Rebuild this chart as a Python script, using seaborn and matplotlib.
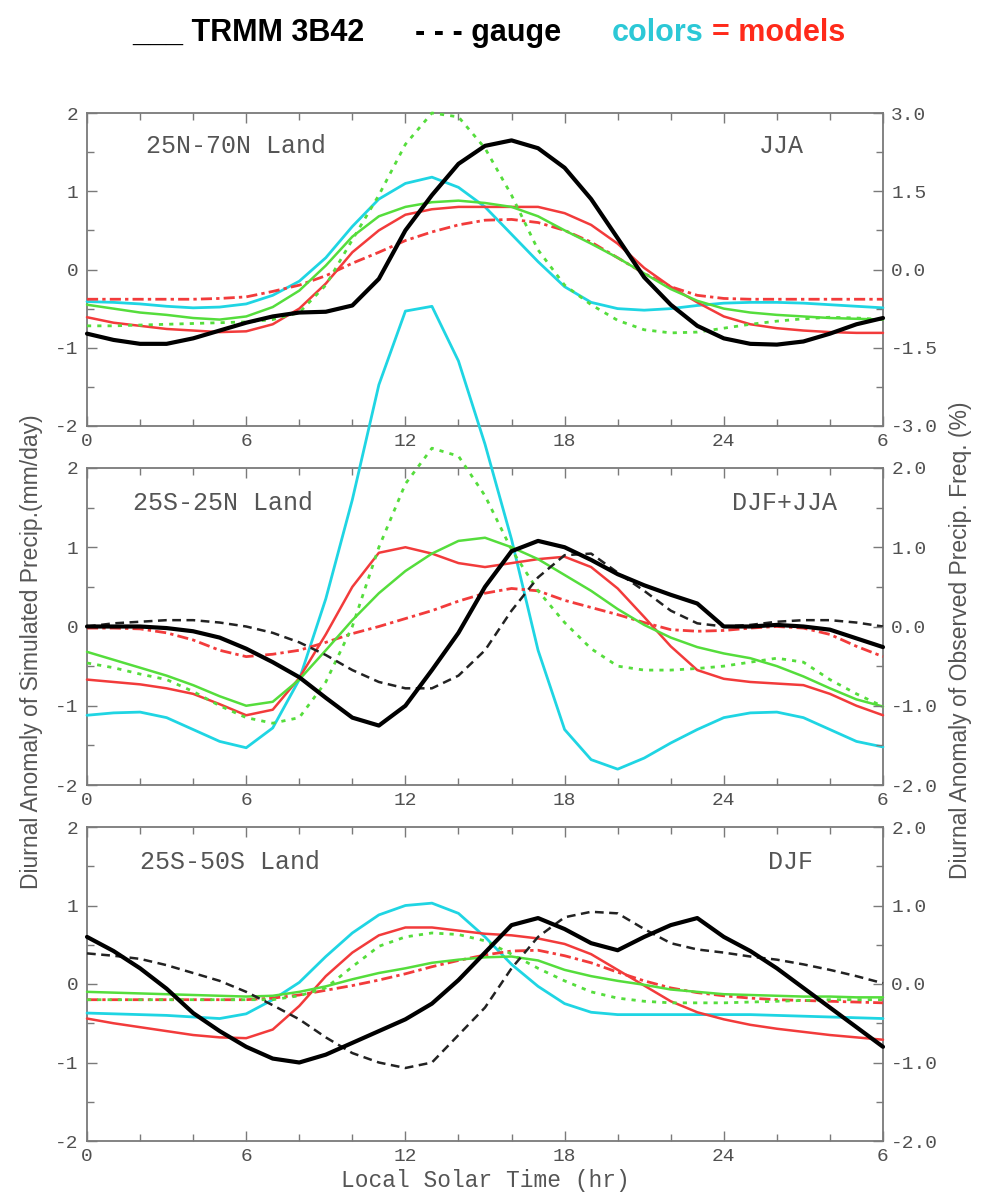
import matplotlib
matplotlib.use('Agg')
import matplotlib.pyplot as plt
import pandas as pd
import seaborn as sns

# local solar time, 0..24 then wrapping round to 6 again
hours = list(range(31))
xtick_pos = [0, 6, 12, 18, 24, 30]
xtick_labels = ['0', '6', '12', '18', '24', '6']

# 25N-70N Land, JJA
nh_trmm = [-0.82, -0.9, -0.95, -0.95, -0.88, -0.78, -0.68, -0.6, -0.55, -0.54, -0.46, -0.12, 0.5, 0.95, 1.35,
           1.58, 1.65, 1.55, 1.3, 0.9, 0.4, -0.1, -0.45, -0.72, -0.88, -0.95, -0.96, -0.92, -0.82, -0.7, -0.62]
nh_cyan = [-0.41, -0.42, -0.44, -0.47, -0.49, -0.48, -0.44, -0.33, -0.15, 0.15, 0.55, 0.9, 1.1, 1.18, 1.05,
           0.8, 0.45, 0.1, -0.22, -0.42, -0.5, -0.52, -0.5, -0.46, -0.43, -0.42, -0.42, -0.43, -0.45, -0.47, -0.49]
nh_red = [-0.61, -0.68, -0.72, -0.76, -0.78, -0.8, -0.79, -0.7, -0.5, -0.18, 0.22, 0.5, 0.7, 0.77, 0.8,
          0.8, 0.8, 0.8, 0.72, 0.57, 0.33, 0.02, -0.22, -0.42, -0.6, -0.7, -0.75, -0.78, -0.8, -0.81, -0.81]
nh_red_dash = [-0.38, -0.38, -0.38, -0.38, -0.38, -0.37, -0.35, -0.28, -0.2, -0.08, 0.08, 0.22, 0.37, 0.48, 0.57,
               0.63, 0.64, 0.6, 0.5, 0.35, 0.15, -0.05, -0.22, -0.33, -0.37, -0.38, -0.38, -0.38, -0.38, -0.38, -0.38]
nh_green = [-0.45, -0.5, -0.55, -0.58, -0.62, -0.64, -0.6, -0.48, -0.27, 0.05, 0.42, 0.68, 0.8, 0.86, 0.88,
            0.85, 0.8, 0.68, 0.5, 0.33, 0.15, -0.05, -0.25, -0.4, -0.5, -0.55, -0.58, -0.6, -0.62, -0.63, -0.64]
nh_green_dot = [-0.72, -0.72, -0.71, -0.7, -0.69, -0.68, -0.67, -0.64, -0.55, -0.2, 0.38, 0.95, 1.6, 2.0, 1.95,
                1.55, 0.95, 0.25, -0.2, -0.45, -0.65, -0.77, -0.81, -0.8, -0.75, -0.7, -0.66, -0.63, -0.61, -0.62, -0.64]

# 25S-25N Land, DJF+JJA
tr_trmm = [0.0, 0.0, 0.0, -0.02, -0.06, -0.14, -0.28, -0.45, -0.64, -0.9, -1.15, -1.25, -1.0, -0.55, -0.08,
           0.5, 0.95, 1.08, 1.0, 0.84, 0.66, 0.52, 0.4, 0.29, 0.0, 0.0, 0.02, 0.0, -0.04, -0.15, -0.26]
tr_gauge = [0.0, 0.04, 0.06, 0.08, 0.08, 0.05, 0.0, -0.08, -0.2, -0.36, -0.55, -0.7, -0.78, -0.78, -0.62,
            -0.3, 0.2, 0.62, 0.9, 0.92, 0.68, 0.45, 0.2, 0.04, 0.0, 0.02, 0.06, 0.08, 0.08, 0.05, 0.0]
tr_cyan = [-1.12, -1.09, -1.08, -1.15, -1.3, -1.45, -1.53, -1.28, -0.67, 0.35, 1.6, 3.05, 3.98, 4.04, 3.35,
           2.3, 1.1, -0.3, -1.3, -1.68, -1.8, -1.66, -1.47, -1.3, -1.15, -1.09, -1.08, -1.15, -1.3, -1.45, -1.52]
tr_red = [-0.67, -0.7, -0.73, -0.78, -0.85, -0.98, -1.12, -1.05, -0.65, -0.1, 0.5, 0.93, 1.0, 0.92, 0.8,
          0.75, 0.8, 0.85, 0.88, 0.75, 0.48, 0.12, -0.25, -0.55, -0.66, -0.7, -0.72, -0.74, -0.85, -1.0, -1.12]
tr_red_dash = [-0.02, -0.02, -0.03, -0.08, -0.17, -0.3, -0.38, -0.35, -0.3, -0.2, -0.09, 0.0, 0.1, 0.2, 0.32,
               0.42, 0.48, 0.45, 0.33, 0.24, 0.15, 0.05, -0.04, -0.06, -0.05, -0.02, 0.0, -0.02, -0.1, -0.25, -0.38]
tr_green = [-0.32, -0.42, -0.52, -0.62, -0.74, -0.88, -1.0, -0.95, -0.67, -0.3, 0.08, 0.42, 0.7, 0.92, 1.08,
            1.12, 1.0, 0.85, 0.65, 0.45, 0.22, 0.02, -0.14, -0.26, -0.34, -0.4, -0.5, -0.63, -0.78, -0.92, -1.01]
tr_green_dot = [-0.46, -0.52, -0.6, -0.67, -0.82, -1.0, -1.15, -1.22, -1.15, -0.7, 0.0, 1.0, 1.8, 2.25, 2.15,
                1.65, 0.97, 0.45, 0.05, -0.28, -0.5, -0.55, -0.55, -0.53, -0.5, -0.45, -0.4, -0.45, -0.67, -0.85, -1.01]

# 25S-50S Land, DJF
sh_trmm = [0.6, 0.42, 0.2, -0.06, -0.37, -0.6, -0.8, -0.95, -1.0, -0.9, -0.75, -0.6, -0.45, -0.25, 0.05,
           0.4, 0.75, 0.84, 0.7, 0.52, 0.43, 0.6, 0.75, 0.84, 0.6, 0.42, 0.2, -0.05, -0.3, -0.55, -0.8]
sh_gauge = [0.39, 0.36, 0.32, 0.24, 0.14, 0.04, -0.1, -0.27, -0.45, -0.68, -0.88, -1.0, -1.07, -1.0, -0.65,
            -0.3, 0.2, 0.6, 0.85, 0.92, 0.9, 0.7, 0.52, 0.44, 0.4, 0.35, 0.31, 0.25, 0.18, 0.1, 0.01]
sh_cyan = [-0.37, -0.38, -0.39, -0.4, -0.42, -0.44, -0.38, -0.2, 0.02, 0.35, 0.65, 0.88, 1.0, 1.03, 0.9,
           0.6, 0.25, -0.03, -0.25, -0.36, -0.39, -0.39, -0.39, -0.39, -0.39, -0.39, -0.4, -0.41, -0.42, -0.43, -0.44]
sh_red = [-0.44, -0.5, -0.55, -0.6, -0.65, -0.68, -0.69, -0.58, -0.28, 0.1, 0.4, 0.62, 0.72, 0.72, 0.68,
          0.64, 0.62, 0.58, 0.51, 0.38, 0.18, -0.02, -0.22, -0.36, -0.45, -0.52, -0.57, -0.61, -0.65, -0.68, -0.71]
sh_red_dash = [-0.2, -0.2, -0.2, -0.2, -0.2, -0.2, -0.2, -0.18, -0.14, -0.08, -0.02, 0.05, 0.13, 0.22, 0.3,
               0.37, 0.42, 0.43, 0.36, 0.27, 0.15, 0.04, -0.05, -0.11, -0.15, -0.18, -0.2, -0.21, -0.22, -0.23, -0.24]
sh_green = [-0.1, -0.11, -0.12, -0.13, -0.14, -0.15, -0.16, -0.15, -0.1, -0.03, 0.06, 0.14, 0.2, 0.27, 0.31,
            0.34, 0.35, 0.3, 0.18, 0.1, 0.04, -0.01, -0.07, -0.1, -0.13, -0.14, -0.15, -0.16, -0.16, -0.17, -0.17]
sh_green_dot = [-0.2, -0.2, -0.2, -0.2, -0.2, -0.2, -0.2, -0.2, -0.15, -0.05, 0.22, 0.48, 0.6, 0.65, 0.63,
                0.55, 0.38, 0.2, 0.04, -0.1, -0.18, -0.22, -0.24, -0.24, -0.24, -0.23, -0.22, -0.21, -0.2, -0.2, -0.2]

panels = [
    ('25N-70N Land', 'JJA', [-3.0, -1.5, 0.0, 1.5, 3.0],
     [nh_cyan, nh_red, nh_red_dash, nh_green, nh_green_dot, None, nh_trmm]),
    ('25S-25N Land', 'DJF+JJA', [-2.0, -1.0, 0.0, 1.0, 2.0],
     [tr_cyan, tr_red, tr_red_dash, tr_green, tr_green_dot, tr_gauge, tr_trmm]),
    ('25S-50S Land', 'DJF', [-2.0, -1.0, 0.0, 1.0, 2.0],
     [sh_cyan, sh_red, sh_red_dash, sh_green, sh_green_dot, sh_gauge, sh_trmm]),
]

# header pieces: text, colour, left x (px)
header = [('___ TRMM 3B42', 'black', 132),
          ('- - - gauge', 'black', 415),
          ('colors', '#2cc8d6', 612),
          ('= models', '#ff2a1a', 712)]

CYAN = '#1fd5e3'
RED = '#f23b3b'
GREEN = '#55dd3c'
GREY = '#7a7a7a'
styles = [
    dict(color=CYAN, lw=2.0, linestyle='-'),
    dict(color=RED, lw=1.8, linestyle='-'),
    dict(color=RED, lw=2.0, linestyle=(0, (4, 1.5, 1.2, 1.5))),
    dict(color=GREEN, lw=1.8, linestyle='-'),
    dict(color=GREEN, lw=2.0, linestyle=(0, (1.5, 2.2))),
    dict(color='#222222', lw=1.8, linestyle=(0, (3.5, 2.2))),
    dict(color='black', lw=3.0, linestyle='-'),
]

sns.set_style('ticks')
plt.rcParams['font.family'] = ['Liberation Mono', 'DejaVu Sans Mono']
plt.rcParams['axes.unicode_minus'] = False

W, H = 986, 1196
fig = plt.figure(figsize=(W / 100, H / 100), dpi=100)

# axes boxes in pixels: top, bottom
boxes = [(113, 426), (468, 785), (827, 1141)]
left_px, right_px = 87, 883

text_pos = [(0.074, 0.895, 0.90), (0.058, 0.89, 0.942), (0.067, 0.89, 0.912)]

for i, (region, season, rticks, series) in enumerate(panels):
    top, bot = boxes[i]
    ax = fig.add_axes([left_px / W, 1 - bot / H, (right_px - left_px) / W, (bot - top) / H])
    ax.set_facecolor('none')
    for vals, st in zip(series, styles):
        if vals is None:
            continue
        sns.lineplot(x=hours, y=vals, ax=ax, clip_on=False, zorder=3, **st)

    ax.set_xlim(0, 30)
    ax.set_ylim(-2, 2)
    ax.set_xticks(xtick_pos)
    ax.set_xticklabels(xtick_labels)
    ax.set_xticks(range(0, 31, 2), minor=True)
    ax.set_yticks([-2, -1, 0, 1, 2])
    ax.set_yticklabels(['-2', '-1', '0', '1', '2'])
    ax.set_yticks([-1.5, -0.5, 0.5, 1.5], minor=True)
    ax.tick_params(which='both', direction='in', top=True, right=False, colors=GREY,
                   labelcolor='#505050', labelsize=14, width=1.0)
    ax.tick_params(which='major', length=7)
    ax.tick_params(which='minor', length=5)
    ax.tick_params(axis='x', pad=5)
    ax.tick_params(axis='y', pad=6)
    for sp in ax.spines.values():
        sp.set_color(GREY)
        sp.set_linewidth(1.3)
    ax.set_xlabel('')
    ax.set_ylabel('')

    rax = ax.twinx()
    rax.set_ylim(rticks[0], rticks[-1])
    rax.set_yticks(rticks)
    rax.set_yticklabels(['%.1f' % v for v in rticks])
    step = rticks[1] - rticks[0]
    rax.set_yticks([v + step / 2 for v in rticks[:-1]], minor=True)
    rax.tick_params(which='both', direction='in', colors=GREY, labelcolor='#505050',
                    labelsize=14, width=1.0, pad=6)
    rax.tick_params(which='major', length=7)
    rax.tick_params(which='minor', length=5)
    for sp in rax.spines.values():
        sp.set_visible(False)

    lx, ly, rx = text_pos[i]
    ax.text(lx, ly, region, transform=ax.transAxes, fontsize=18, color='#555555',
            ha='left', va='center')
    ax.text(rx, ly, season, transform=ax.transAxes, fontsize=18, color='#555555',
            ha='right', va='center')

fig.text(485 / W, 1 - 1180 / H, 'Local Solar Time (hr)', ha='center', va='center',
         fontsize=16.5, color='#555555')
fig.text(32 / W, 1 - 652 / H, 'Diurnal Anomaly of Simulated Precip.(mm/day)', rotation=90,
         ha='center', va='center', fontsize=16.5, color='#555555', family=['Liberation Sans', 'DejaVu Sans'])
fig.text(960 / W, 1 - 640 / H, 'Diurnal Anomaly of Observed Precip. Freq. (%)', rotation=90,
         ha='center', va='center', fontsize=16.5, color='#555555', family=['Liberation Sans', 'DejaVu Sans'])

# header key
hy = 1 - 41 / H
for txt, col, x0 in header:
    fig.text(x0 / W, hy, txt, color=col, fontsize=22, fontweight='bold',
             family=['Liberation Sans', 'DejaVu Sans'], va='baseline', ha='left')

fig.savefig('out.png', dpi=100, facecolor='white')
